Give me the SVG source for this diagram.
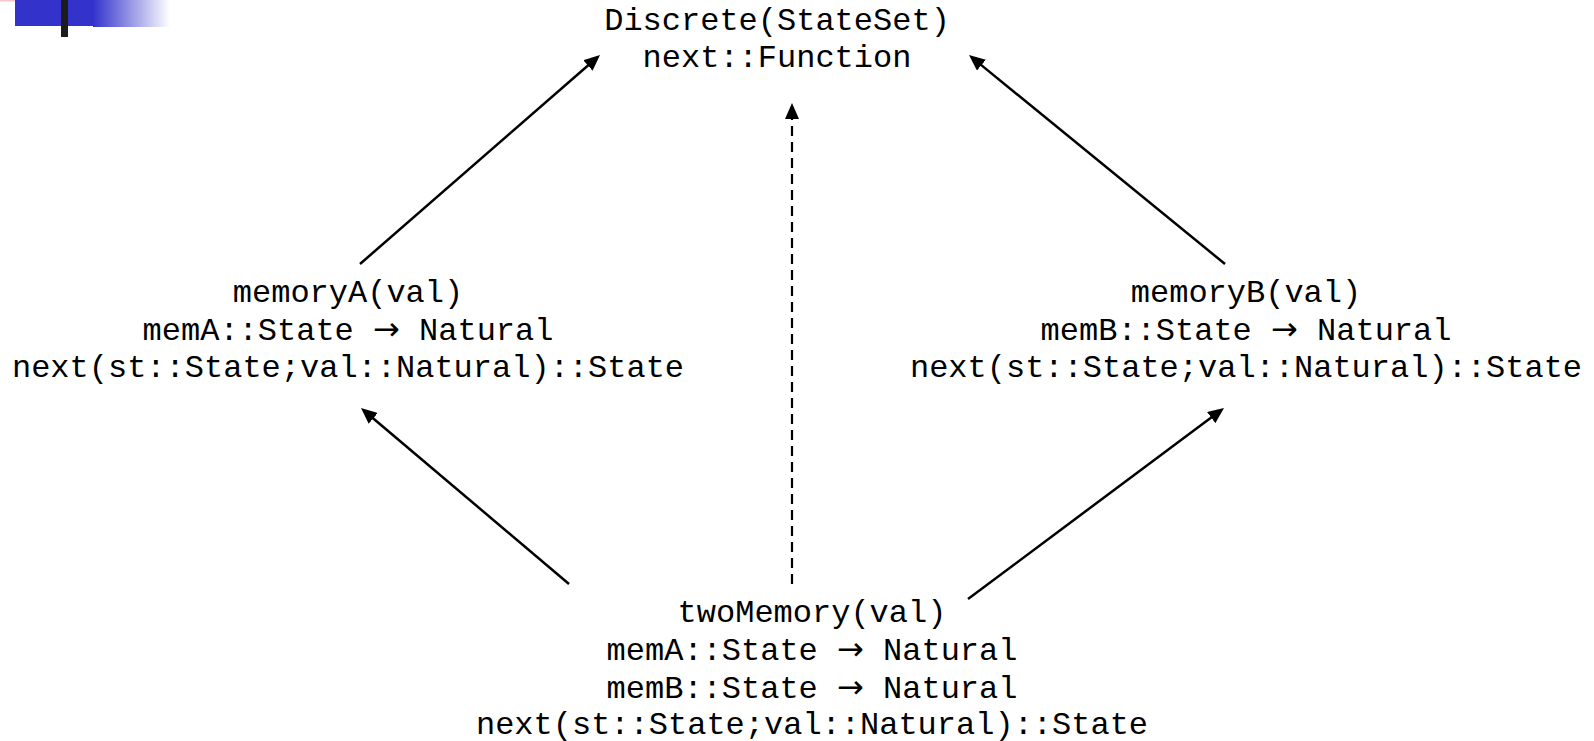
<svg xmlns="http://www.w3.org/2000/svg" width="1594" height="741" viewBox="0 0 1594 741">
  <style>
    .lbl { font-family: "Liberation Mono", "Courier New", monospace; font-size: 32px; fill: #000; text-anchor: middle; }
    .arr { font-family: "DejaVu Sans", sans-serif; font-weight: normal; }
    .edge { stroke: #000; stroke-width: 2.5; fill: none; }
    .dash { stroke-width: 2.2; stroke-dasharray: 10 6; }
  </style>
  <defs>
    <marker id="head" markerUnits="userSpaceOnUse" markerWidth="16" markerHeight="14" refX="8" refY="7" orient="auto">
      <path d="M0,0 L16,7 L0,14 z" fill="#000"/>
    </marker>
    <linearGradient id="fade" x1="0" y1="0" x2="1" y2="0">
      <stop offset="0" stop-color="#3333cc"/>
      <stop offset="1" stop-color="#ffffff"/>
    </linearGradient>
  </defs>

  <!-- corner decoration -->
  <g id="corner">
    <rect x="0" y="0" width="46" height="1.5" fill="#f6c6cc"/>
    <rect x="15" y="0" width="78" height="26" fill="#3333cc"/>
    <rect x="93" y="0" width="77" height="27" fill="url(#fade)"/>
    <rect x="61" y="0" width="7" height="37" fill="#1c1c1c"/>
  </g>

  <g id="connectors">
    <path class="edge" d="M360,264 L594.0,60.3" marker-end="url(#head)"/>
    <path class="edge" d="M1225,264 L975.2,60.1" marker-end="url(#head)"/>
    <path class="edge dash" d="M792,584 L792,111" marker-end="url(#head)"/>
    <path class="edge" d="M569,584 L367.1,413.2" marker-end="url(#head)"/>
    <path class="edge" d="M968,599 L1217.6,412.8" marker-end="url(#head)"/>
  </g>

  <g id="discrete">
    <text class="lbl" x="777" y="30">Discrete(StateSet)</text>
    <text class="lbl" x="777" y="67">next::Function</text>
  </g>

  <g id="memoryA">
    <text class="lbl" x="348" y="302">memoryA(val)</text>
    <text class="lbl" x="348" y="340">memA::State <tspan class="arr">→</tspan> Natural</text>
    <text class="lbl" x="348" y="377">next(st::State;val::Natural)::State</text>
  </g>

  <g id="memoryB">
    <text class="lbl" x="1246" y="302">memoryB(val)</text>
    <text class="lbl" x="1246" y="340">memB::State <tspan class="arr">→</tspan> Natural</text>
    <text class="lbl" x="1246" y="377">next(st::State;val::Natural)::State</text>
  </g>

  <g id="twoMemory">
    <text class="lbl" x="812" y="622">twoMemory(val)</text>
    <text class="lbl" x="812" y="660">memA::State <tspan class="arr">→</tspan> Natural</text>
    <text class="lbl" x="812" y="698">memB::State <tspan class="arr">→</tspan> Natural</text>
    <text class="lbl" x="812" y="734">next(st::State;val::Natural)::State</text>
  </g>
</svg>
